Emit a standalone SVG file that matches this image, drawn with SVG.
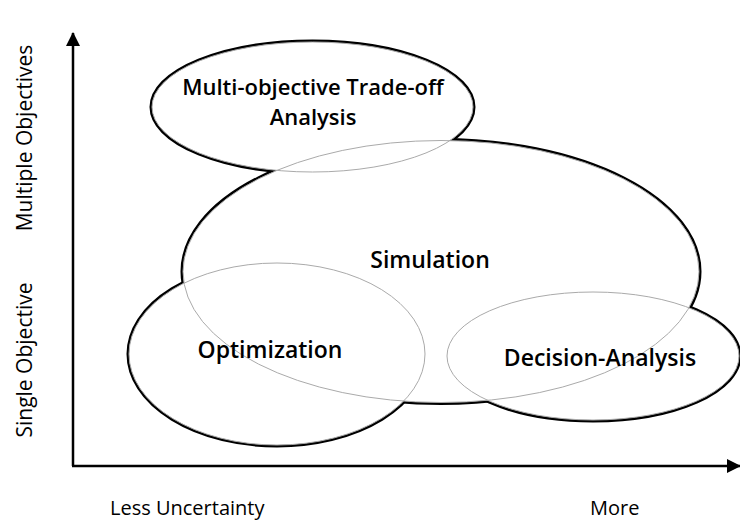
<svg xmlns="http://www.w3.org/2000/svg" xmlns:xlink="http://www.w3.org/1999/xlink" width="740" height="521" viewBox="0 0 740 521">
<style>
text{font-variant-ligatures:none}
.lbl{font-family:"Open Sans",Lato,"Liberation Sans",sans-serif;font-weight:600;font-size:23px;fill:#000;text-anchor:middle}
.sm{font-size:22px}
.ax{font-family:"Open Sans",Lato,"Liberation Sans",sans-serif;font-weight:400;font-size:20px;fill:#000}
.axv{font-size:21px}
.thin{fill:none;stroke:#aaaaaa;stroke-width:1}
.outer{fill:none;stroke:#000;stroke-width:5}
.cover{fill:#fff;stroke:none}
.axis{fill:none;stroke:#000;stroke-width:2.5}
</style>
<defs>
<ellipse id="e-mota" cx="312.5" cy="107" rx="160.5" ry="65"/>
<ellipse id="e-sim" cx="441" cy="271.5" rx="258" ry="131"/>
<ellipse id="e-opt" cx="277" cy="354" rx="148" ry="91"/>
<ellipse id="e-da" cx="593" cy="356" rx="146" ry="64"/>
<marker id="arr" viewBox="0 0 14 14" refX="13" refY="7" markerWidth="14" markerHeight="14" markerUnits="userSpaceOnUse" orient="auto">
<path d="M0,0 L14,7 L0,14 z" fill="#000"/>
</marker>
</defs>
<rect width="740" height="521" fill="#fff"/>
<g id="union-outline">
<use xlink:href="#e-mota" class="outer"/>
<use xlink:href="#e-sim" class="outer"/>
<use xlink:href="#e-opt" class="outer"/>
<use xlink:href="#e-da" class="outer"/>
<use xlink:href="#e-mota" class="cover"/>
<use xlink:href="#e-sim" class="cover"/>
<use xlink:href="#e-opt" class="cover"/>
<use xlink:href="#e-da" class="cover"/>
</g>
<g id="connectors">
<path class="axis" d="M73,466 L73,33" marker-end="url(#arr)"/>
<path class="axis" d="M72,466 L740,466" marker-end="url(#arr)"/>
</g>
<g id="node-mota">
<use xlink:href="#e-mota" class="thin"/>
<text class="lbl sm" x="313" y="95">Multi-objective Trade-off</text>
<text class="lbl sm" x="313" y="125">Analysis</text>
</g>
<g id="node-sim">
<use xlink:href="#e-sim" class="thin"/>
<text class="lbl" x="430" y="268">Simulation</text>
</g>
<g id="node-opt">
<use xlink:href="#e-opt" class="thin"/>
<text class="lbl" x="270" y="358">Optimization</text>
</g>
<g id="node-da">
<use xlink:href="#e-da" class="thin"/>
<text class="lbl" x="600" y="366">Decision-Analysis</text>
</g>
<g id="axis-labels">
<text class="ax" x="110" y="515">Less Uncertainty</text>
<text class="ax" x="590" y="515">More</text>
<text class="ax axv" transform="translate(32,360) rotate(-90)" text-anchor="middle">Single Objective</text>
<text class="ax axv" transform="translate(32,138) rotate(-90)" text-anchor="middle">Multiple Objectives</text>
</g>
</svg>
